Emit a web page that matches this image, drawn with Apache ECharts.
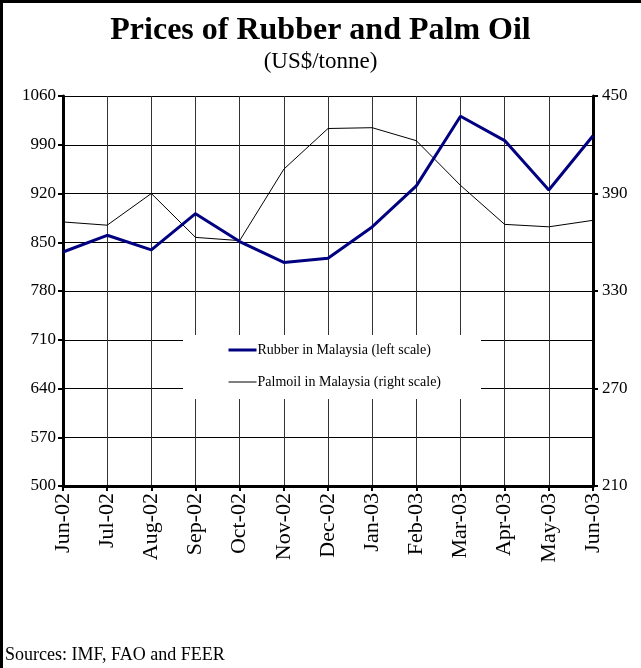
<!DOCTYPE html>
<html>
<head>
<meta charset="utf-8">
<title>Prices of Rubber and Palm Oil</title>
<script src="https://cdn.jsdelivr.net/npm/echarts@6/dist/echarts.min.js"></script>
<style>
  html, body { margin: 0; padding: 0; background: #fff; }
  #chart { width: 641px; height: 668px; }
</style>
</head>
<body>
<div id="chart"></div>
<script>
const months = ['Jun-02', 'Jul-02', 'Aug-02', 'Sep-02', 'Oct-02', 'Nov-02', 'Dec-02',
  'Jan-03', 'Feb-03', 'Mar-03', 'Apr-03', 'May-03', 'Jun-03'];
// left scale, US$/tonne
const rubber = [836, 860, 839, 891, 851, 821, 827, 872, 931, 1031, 996, 925, 1003];
// right scale, US$/tonne
const palmOil = [372.5, 370.5, 390, 363, 361, 405, 430, 430.5, 422.5, 395, 371, 369.5, 373.5];

const serif = '"Liberation Serif", "Times New Roman", serif';
const plain = (v) => String(v);

const chart = echarts.init(document.getElementById('chart'));

chart.setOption({
  animation: false,
  backgroundColor: '#fff',
  title: {
    text: 'Prices of Rubber and Palm Oil',
    subtext: '(US$/tonne)',
    left: 'center',
    top: 9,
    itemGap: 2,
    textStyle: { fontFamily: serif, fontSize: 32, fontWeight: 'bold', color: '#000', lineHeight: 34 },
    subtextStyle: { fontFamily: serif, fontSize: 23, color: '#000', lineHeight: 24 }
  },
  legend: {
    orient: 'vertical',
    left: 183,
    top: 335,
    padding: [8, 40, 10, 44],
    itemGap: 18,
    itemWidth: 28,
    itemHeight: 14,
    backgroundColor: '#fff',
    itemStyle: { opacity: 0 },
    textStyle: { fontFamily: serif, fontSize: 14, color: '#000', padding: [0, 0, 0, -4] },
    data: [
      { name: 'Rubber in Malaysia (left scale)', lineStyle: { width: 3, color: '#000080' } },
      { name: 'Palmoil in Malaysia (right scale)', lineStyle: { width: 1, color: '#000' } }
    ]
  },
  grid: {
    left: 63,
    right: 48,
    top: 96,
    bottom: 182
  },
  xAxis: {
    type: 'category',
    boundaryGap: false,
    data: months,
    axisLine: { lineStyle: { color: '#000', width: 3 } },
    axisTick: { alignWithLabel: true, length: 5, lineStyle: { color: '#000', width: 2 } },
    axisLabel: { rotate: 90, margin: 7, fontFamily: serif, fontSize: 22, color: '#000' },
    splitLine: { show: true, lineStyle: { color: '#333', width: 1 } }
  },
  yAxis: [
    {
      type: 'value',
      min: 500,
      max: 1060,
      interval: 70,
      position: 'left',
      axisLine: { show: true, lineStyle: { color: '#000', width: 3 } },
      axisTick: { show: true, length: 5, lineStyle: { color: '#000', width: 2 } },
      axisLabel: { margin: 7, fontFamily: serif, fontSize: 17, color: '#000', formatter: plain },
      splitLine: { show: true, lineStyle: { color: '#000', width: 1 } }
    },
    {
      type: 'value',
      min: 210,
      max: 450,
      interval: 60,
      position: 'right',
      axisLine: { show: true, lineStyle: { color: '#000', width: 3 } },
      axisTick: { show: true, length: 5, lineStyle: { color: '#000', width: 2 } },
      axisLabel: { margin: 9, fontFamily: serif, fontSize: 17, color: '#000', formatter: plain },
      splitLine: { show: false }
    }
  ],
  series: [
    {
      name: 'Rubber in Malaysia (left scale)',
      type: 'line',
      yAxisIndex: 0,
      data: rubber,
      symbol: 'none',
      z: 3,
      lineStyle: { color: '#000080', width: 3 },
      itemStyle: { color: '#000080' }
    },
    {
      name: 'Palmoil in Malaysia (right scale)',
      type: 'line',
      yAxisIndex: 1,
      data: palmOil,
      symbol: 'none',
      z: 2,
      lineStyle: { color: '#000', width: 1 },
      itemStyle: { color: '#000' }
    }
  ],
  graphic: [
    { type: 'rect', left: 0, top: 0, shape: { width: 641, height: 3 }, style: { fill: '#000' } },
    { type: 'rect', left: 0, top: 0, shape: { width: 3, height: 668 }, style: { fill: '#000' } },
    {
      type: 'text',
      left: 5,
      top: 646,
      style: { text: 'Sources: IMF, FAO and FEER', font: '18px ' + serif, fill: '#000' }
    }
  ]
});
</script>
</body>
</html>
